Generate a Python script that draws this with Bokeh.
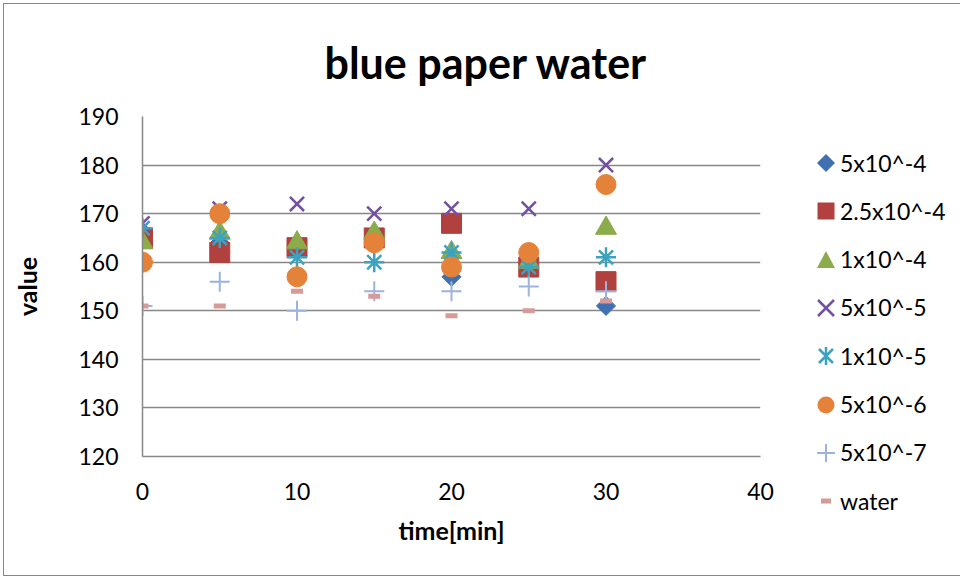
from bokeh.plotting import figure
from bokeh.layouts import row
from bokeh.models import Range1d, FixedTicker, Div
from bokeh.embed import file_html
from bokeh.resources import INLINE

time_min = [0, 5, 10, 15, 20, 25, 30]
s_5e4 = [165, 164, 163, 165, 157, 159, 151]
s_25e4 = [165, 162, 163, 165, 168, 159, 156]
s_1e4 = [164, 166, 164, 166, 162, 160, 167]
s_5e5 = [168, 171, 172, 170, 171, 171, 180]
s_1e5 = [167, 165, 161, 160, 162, 159, 161]
s_5e6 = [160, 170, 157, 164, 159, 162, 176]
s_5e7 = [151, 156, 150, 154, 154, 155, 154]
water = [151, 151, 154, 153, 149, 150, 152]

names = ["5x10^-4", "2.5x10^-4", "1x10^-4", "5x10^-5", "1x10^-5", "5x10^-6", "5x10^-7", "water"]
y_ticks = [120, 130, 140, 150, 160, 170, 180, 190]
x_ticks = [0, 10, 20, 30, 40]

FONT = "Lato"

# series styles: (marker, plot size, color, filled, line width, angle)
styles = [
    ("square", 13.5, "#4170B0", True, 1, 0.7854),
    ("square", 20, "#B0413E", True, 1, 0),
    ("triangle", 21, "#8CAB4A", True, 1, 0),
    ("x", 20, "#7350A0", False, 2.5, 0),
    ("asterisk", 20, "#3CA3BF", False, 2.5, 0),
    ("circle", 20, "#E5823A", True, 1, 0),
    ("cross", 20, "#9BB3DD", False, 2, 0),
    ("dash", 12, "#D69A98", False, 5, 0),
]
series = [s_5e4, s_25e4, s_1e4, s_5e5, s_1e5, s_5e6, s_5e7, water]

p = figure(width=776, height=571, output_backend="svg", toolbar_location=None,
           x_range=Range1d(0, 40), y_range=Range1d(120, 190),
           min_border_left=138, min_border_right=20, min_border_top=112, min_border_bottom=119)

p.title.text = "blue paper water"
p.title.align = "left"
p.title.text_font = FONT
p.title.text_font_style = "bold"
p.title.text_font_size = "43px"
p.title.text_color = "#000000"
p.title.offset = 182
p.title.standoff = 58

p.outline_line_color = None
p.xgrid.grid_line_color = None
p.ygrid.grid_line_color = "#878787"
p.ygrid.grid_line_width = 1.5
p.yaxis.ticker = FixedTicker(ticks=y_ticks)
p.xaxis.ticker = FixedTicker(ticks=x_ticks)
for ax in (p.xaxis[0], p.yaxis[0]):
    ax.axis_line_color = "#878787"
    ax.axis_line_width = 1.5
    ax.major_tick_line_color = None
    ax.minor_tick_line_color = None
    ax.major_tick_out = 0
    ax.major_tick_in = 0
    ax.minor_tick_out = 0
    ax.minor_tick_in = 0
    ax.major_label_text_font = FONT
    ax.major_label_text_font_size = "23px"
    ax.major_label_text_color = "#000000"
    ax.axis_label_text_font = FONT
    ax.axis_label_text_font_style = "bold"
    ax.axis_label_text_font_size = "25px"
    ax.axis_label_text_color = "#000000"
p.xaxis.axis_label = "time[min]"
p.yaxis.axis_label = "value"
p.xaxis.major_label_standoff = 26
p.yaxis.major_label_standoff = 24
p.xaxis.axis_label_standoff = 12
p.yaxis.axis_label_standoff = 33

for ys, (mk, sz, col, filled, lw, ang) in zip(series, styles):
    p.scatter(time_min, ys, marker=mk, size=sz, angle=ang,
              fill_color=col if filled else None, line_color=col, line_width=lw)


def key_svg(mk, col, lw):
    if mk == "square" and col == styles[0][2]:
        shape = f'<polygon points="0,-9 9,0 0,9 -9,0" fill="{col}"/>'
    elif mk == "square":
        shape = f'<rect x="-8.5" y="-8.5" width="17" height="17" fill="{col}"/>'
    elif mk == "triangle":
        shape = f'<polygon points="0,-9 9,8 -9,8" fill="{col}"/>'
    elif mk == "x":
        shape = (f'<path d="M-8,-8 L8,8 M8,-8 L-8,8" stroke="{col}" stroke-width="{lw}" fill="none"/>')
    elif mk == "asterisk":
        shape = (f'<path d="M-7,-7 L7,7 M7,-7 L-7,7 M0,-9 L0,9" stroke="{col}" stroke-width="{lw}" fill="none"/>')
    elif mk == "circle":
        shape = f'<circle cx="0" cy="0" r="8.5" fill="{col}"/>'
    elif mk == "cross":
        shape = f'<path d="M-9,0 L9,0 M0,-9 L0,9" stroke="{col}" stroke-width="{lw}" fill="none"/>'
    else:
        shape = f'<rect x="-5" y="-2.5" width="10" height="5" fill="{col}"/>'
    return f'<svg width="20" height="20" viewBox="-10 -10 20 20" style="flex:none">{shape}</svg>'


items = []
for i, (name, (mk, sz, col, filled, lw, ang)) in enumerate(zip(names, styles)):
    top = 160 - 24 - 6 + 48.3 * i
    items.append(
        f'<div style="position:absolute;left:31px;top:{top:.1f}px;height:48px;display:flex;'
        f'align-items:center;white-space:nowrap;">{key_svg(mk, col, lw)}'
        f'<span style="margin-left:4px;line-height:1;">{name}</span></div>')
legend_html = ('<div style="position:relative;width:170px;height:540px;overflow:visible;font-family:Lato;'
               'font-size:23px;color:#000000;">' + "".join(items) + '</div>')
legend_div = Div(text=legend_html, width=170, height=545)

layout = row(p, legend_div, styles={"margin": "3px", "border": "1.5px solid #878787"})

open("out.html", "w").write(file_html(layout, INLINE))
